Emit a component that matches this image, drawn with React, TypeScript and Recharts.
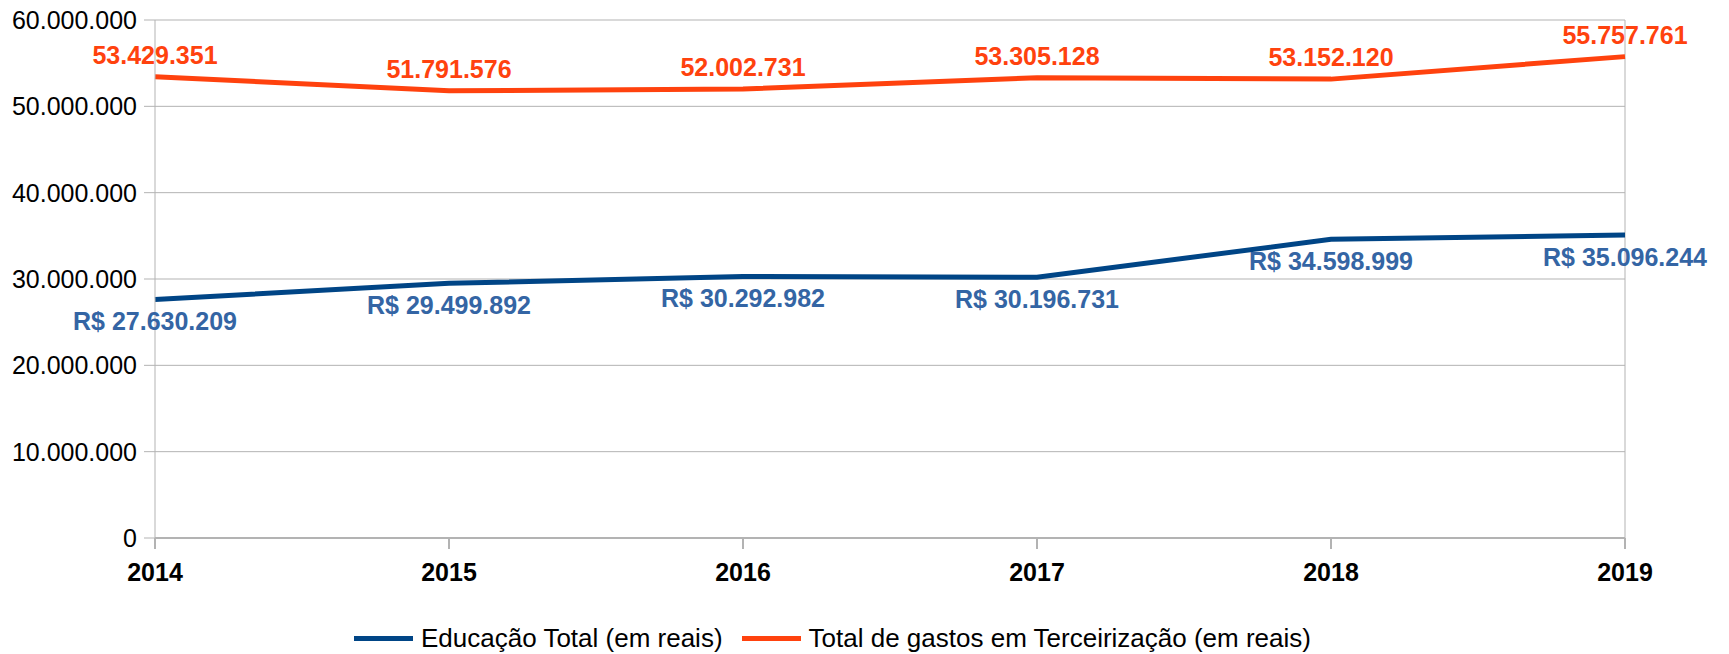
import {
  LineChart,
  Line,
  XAxis,
  YAxis,
  CartesianGrid,
  Legend,
  LabelList,
  ReferenceLine,
} from 'recharts'

const years = ['2014', '2015', '2016', '2017', '2018', '2019']
const educacao = [27630209, 29499892, 30292982, 30196731, 34598999, 35096244]
const terceirizacao = [53429351, 51791576, 52002731, 53305128, 53152120, 55757761]
const yTicks = [0, 10000000, 20000000, 30000000, 40000000, 50000000, 60000000]

const seriesNames = {
  educacao: 'Educação Total (em reais)',
  terceirizacao: 'Total de gastos em Terceirização (em reais)',
}

const data = years.map((year, i) => ({
  year,
  educacao: educacao[i],
  terceirizacao: terceirizacao[i],
}))

const FONT = '"Liberation Sans", Arial, sans-serif'
const GRID = '#b3b3b3'
const BLUE = '#004586'
const BLUE_LABEL = '#3465a4'
const ORANGE = '#ff420e'

const dots = (v: number) =>
  String(Math.round(v)).replace(/\B(?=(\d{3})+(?!\d))/g, '.')

function ChartLegend() {
  const item = (color: string, text: string, ml: number) => (
    <div style={{ display: 'flex', alignItems: 'center', marginLeft: ml }}>
      <span
        style={{ display: 'inline-block', width: 59, height: 5, background: color, marginRight: 8 }}
      />
      <span style={{ fontSize: 26, color: '#000', lineHeight: '28px' }}>{text}</span>
    </div>
  )
  return (
    <div
      style={{
        height: 56,
        boxSizing: 'border-box',
        paddingTop: 26,
        paddingLeft: 354,
        display: 'flex',
        alignItems: 'flex-start',
        fontFamily: FONT,
      }}
    >
      {item(BLUE, seriesNames.educacao, 0)}
      {item(ORANGE, seriesNames.terceirizacao, 19)}
    </div>
  )
}

export default function App() {
  return (
    <div style={{ fontFamily: FONT }}>
      <style>{`body{margin:0}`}</style>
      <LineChart
        width={1729}
        height={654}
        data={data}
        margin={{ top: 20, right: 104, left: 0, bottom: 0 }}
      >
        <CartesianGrid stroke={GRID} vertical={false} />
        <XAxis
          dataKey="year"
          height={60}
          stroke={GRID}
          strokeWidth={2}
          tickSize={11}
          tickMargin={14}
          tick={{ fill: '#000', fontSize: 25, fontWeight: 'bold', fontFamily: FONT }}
        />
        <YAxis
          width={155}
          domain={[0, 60000000]}
          ticks={yTicks}
          interval={0}
          stroke={GRID}
          tickSize={11}
          tickMargin={7}
          tickFormatter={dots}
          tick={{ fill: '#000', fontSize: 25, fontFamily: FONT }}
        />
        <ReferenceLine x="2019" stroke={GRID} />
        <Legend verticalAlign="bottom" align="left" content={() => <ChartLegend />} />
        <Line
          type="linear"
          dataKey="educacao"
          name={seriesNames.educacao}
          stroke={BLUE}
          strokeWidth={5}
          dot={false}
          isAnimationActive={false}
        >
          <LabelList
            dataKey="educacao"
            position="bottom"
            offset={13}
            formatter={(v: number) => 'R$ ' + dots(v)}
            fill={BLUE_LABEL}
            fontSize={25}
            fontWeight="bold"
            fontFamily={FONT}
          />
        </Line>
        <Line
          type="linear"
          dataKey="terceirizacao"
          name={seriesNames.terceirizacao}
          stroke={ORANGE}
          strokeWidth={5}
          dot={false}
          isAnimationActive={false}
        >
          <LabelList
            dataKey="terceirizacao"
            position="top"
            offset={13}
            formatter={(v: number) => dots(v)}
            fill={ORANGE}
            fontSize={25}
            fontWeight="bold"
            fontFamily={FONT}
          />
        </Line>
      </LineChart>
    </div>
  )
}
